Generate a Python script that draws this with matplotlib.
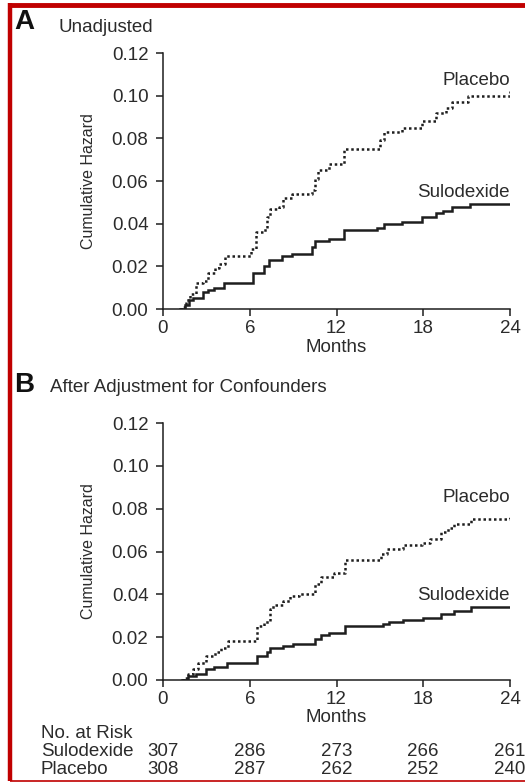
import numpy as np
import matplotlib
matplotlib.use('Agg')
import matplotlib.pyplot as plt
from matplotlib import transforms

plt.rcParams['font.family'] = ['Liberation Sans', 'DejaVu Sans']

# panel A (unadjusted) - months / cumulative hazard
sul_a_t = [1.2, 1.5, 1.8, 2.1, 2.8, 3.1, 3.5, 4.2, 6.2, 7.0, 7.3, 8.2, 8.9, 10.3, 10.5,
           11.5, 12.5, 14.8, 15.3, 16.5, 17.9, 18.9, 19.4, 20.0, 21.2, 24]
sul_a_h = [0, 0.002, 0.004, 0.005, 0.008, 0.009, 0.010, 0.012, 0.017, 0.020, 0.023, 0.025,
           0.026, 0.029, 0.032, 0.033, 0.037, 0.038, 0.040, 0.041, 0.043, 0.045, 0.046,
           0.048, 0.049, 0.049]
plc_a_t = [1.2, 1.4, 1.6, 1.9, 2.3, 2.8, 3.1, 3.6, 3.9, 4.3, 6.1, 6.4, 6.9, 7.2, 7.4, 8.0,
           8.3, 8.9, 10.3, 10.5, 10.7, 11.5, 12.5, 15.0, 15.3, 16.5, 17.9, 18.9, 19.6, 20.0,
           21.1, 24]
plc_a_h = [0, 0.001, 0.004, 0.007, 0.012, 0.013, 0.017, 0.019, 0.021, 0.025, 0.028, 0.036,
           0.037, 0.043, 0.047, 0.048, 0.052, 0.054, 0.056, 0.061, 0.065, 0.068, 0.075,
           0.079, 0.083, 0.085, 0.088, 0.092, 0.094, 0.097, 0.100, 0.102]

# panel B (after adjustment for confounders)
sul_b_t = [1.3, 1.75, 2.3, 3.0, 3.5, 4.4, 6.5, 7.2, 7.4, 8.3, 9.0, 10.5, 10.9, 11.5, 12.6,
           15.2, 15.6, 16.6, 18.0, 19.2, 20.1, 21.3, 24]
sul_b_h = [0, 0.002, 0.003, 0.005, 0.006, 0.008, 0.011, 0.013, 0.015, 0.016, 0.017, 0.019,
           0.021, 0.022, 0.025, 0.026, 0.027, 0.028, 0.029, 0.031, 0.032, 0.034, 0.034]
plc_b_t = [1.3, 1.5, 1.75, 2.1, 2.4, 3.0, 3.6, 4.0, 4.5, 6.5, 7.0, 7.4, 7.6, 8.3, 8.8, 9.4,
           10.5, 10.9, 11.8, 12.6, 15.1, 15.5, 16.6, 17.9, 18.5, 19.2, 19.7, 20.1, 21.3, 24]
plc_b_h = [0, 0.001, 0.003, 0.005, 0.008, 0.011, 0.013, 0.015, 0.018, 0.025, 0.027, 0.033,
           0.035, 0.037, 0.039, 0.040, 0.045, 0.048, 0.050, 0.056, 0.059, 0.061, 0.063,
           0.064, 0.066, 0.069, 0.071, 0.073, 0.075, 0.076]

risk_months = [0, 6, 12, 18, 24]
risk_sul = [307, 286, 273, 266, 261]
risk_plc = [308, 287, 262, 252, 240]

xticks = [0, 6, 12, 18, 24]
yticks = [0.00, 0.02, 0.04, 0.06, 0.08, 0.10, 0.12]

W, H = 525, 782
txt = '#2b2b2b'
ink = '#1e1e1e'
fs = 13.5

fig = plt.figure(figsize=(W / 100, H / 100), dpi=100)
fig.patch.set_facecolor('white')


def px(x, y):
    return x / W, 1 - y / H


def panel(ax, sul_t, sul_h, plc_t, plc_h, plc_y, sul_y):
    ax.step(sul_t, sul_h, where='post', color=ink, lw=1.8, solid_joinstyle='miter')
    ax.step(plc_t, plc_h, where='post', color=ink, lw=1.8, ls=(0, (1, 1.1)))
    ax.set_xlim(0, 24)
    ax.set_ylim(0, 0.12)
    ax.set_xticks(xticks)
    ax.set_yticks(yticks)
    ax.set_yticklabels(['%.2f' % v for v in yticks])
    for s in ['top', 'right']:
        ax.spines[s].set_visible(False)
    for s in ['left', 'bottom']:
        ax.spines[s].set_linewidth(1.1)
        ax.spines[s].set_color(ink)
    ax.tick_params(axis='both', direction='out', length=5, width=1.1, color=ink,
                   labelsize=fs, labelcolor=txt)
    ax.tick_params(axis='x', pad=3)
    ax.tick_params(axis='y', pad=5.5)
    ax.set_xlabel('Months', fontsize=fs, color=txt, labelpad=1)
    ax.set_ylabel('Cumulative Hazard', fontsize=11.5, color=txt, labelpad=11)
    ax.text(24, plc_y, 'Placebo', ha='right', va='center', fontsize=fs, color=txt)
    ax.text(24, sul_y, 'Sulodexide', ha='right', va='center', fontsize=fs, color=txt)
    ax.patch.set_alpha(0)


l, r = 163 / W, 510 / W
ax_a = fig.add_axes([l, 1 - 309 / H, r - l, (309 - 53) / H])
ax_b = fig.add_axes([l, 1 - 680 / H, r - l, (680 - 423) / H])
panel(ax_a, sul_a_t, sul_a_h, plc_a_t, plc_a_h, 0.107, 0.0545)
panel(ax_b, sul_b_t, sul_b_h, plc_b_t, plc_b_h, 0.0852, 0.0394)

# panel headings
fig.text(*px(14, 22), 'A', fontsize=20, fontweight='bold', color='#111111', va='center')
fig.text(*px(59, 27), 'Unadjusted', fontsize=fs, color=txt, va='center')
fig.text(*px(14, 385), 'B', fontsize=20, fontweight='bold', color='#111111', va='center')
fig.text(*px(50, 388), 'After Adjustment for Confounders', fontsize=fs, color=txt, va='center')

# numbers at risk under panel B
tr = transforms.blended_transform_factory(ax_b.transData, fig.transFigure)
fig.text(*px(41, 733), 'No. at Risk', fontsize=fs, color=txt, va='center')
fig.text(*px(41, 751), 'Sulodexide', fontsize=fs, color=txt, va='center')
fig.text(*px(41, 769), 'Placebo', fontsize=fs, color=txt, va='center')
for m, a, b in zip(risk_months, risk_sul, risk_plc):
    fig.text(m, 1 - 751 / H, str(a), transform=tr, ha='center', va='center',
             fontsize=fs, color=txt)
    fig.text(m, 1 - 769 / H, str(b), transform=tr, ha='center', va='center',
             fontsize=fs, color=txt)

# red frame of the clipping
red = '#c00000'
fig.add_artist(plt.Line2D([10 / W, 1], [1 - 5 / H, 1 - 5 / H], color=red, lw=3.5,
                          transform=fig.transFigure, solid_capstyle='butt'))
fig.add_artist(plt.Line2D([10 / W, 10 / W], [1 - 3 / H, 1 - 781 / H], color=red, lw=3.2,
                          transform=fig.transFigure, solid_capstyle='butt'))
fig.add_artist(plt.Line2D([10 / W, 1], [1 - 780.5 / H, 1 - 780.5 / H], color=red, lw=1.2,
                          transform=fig.transFigure, solid_capstyle='butt'))

fig.savefig('out.png', dpi=100)
